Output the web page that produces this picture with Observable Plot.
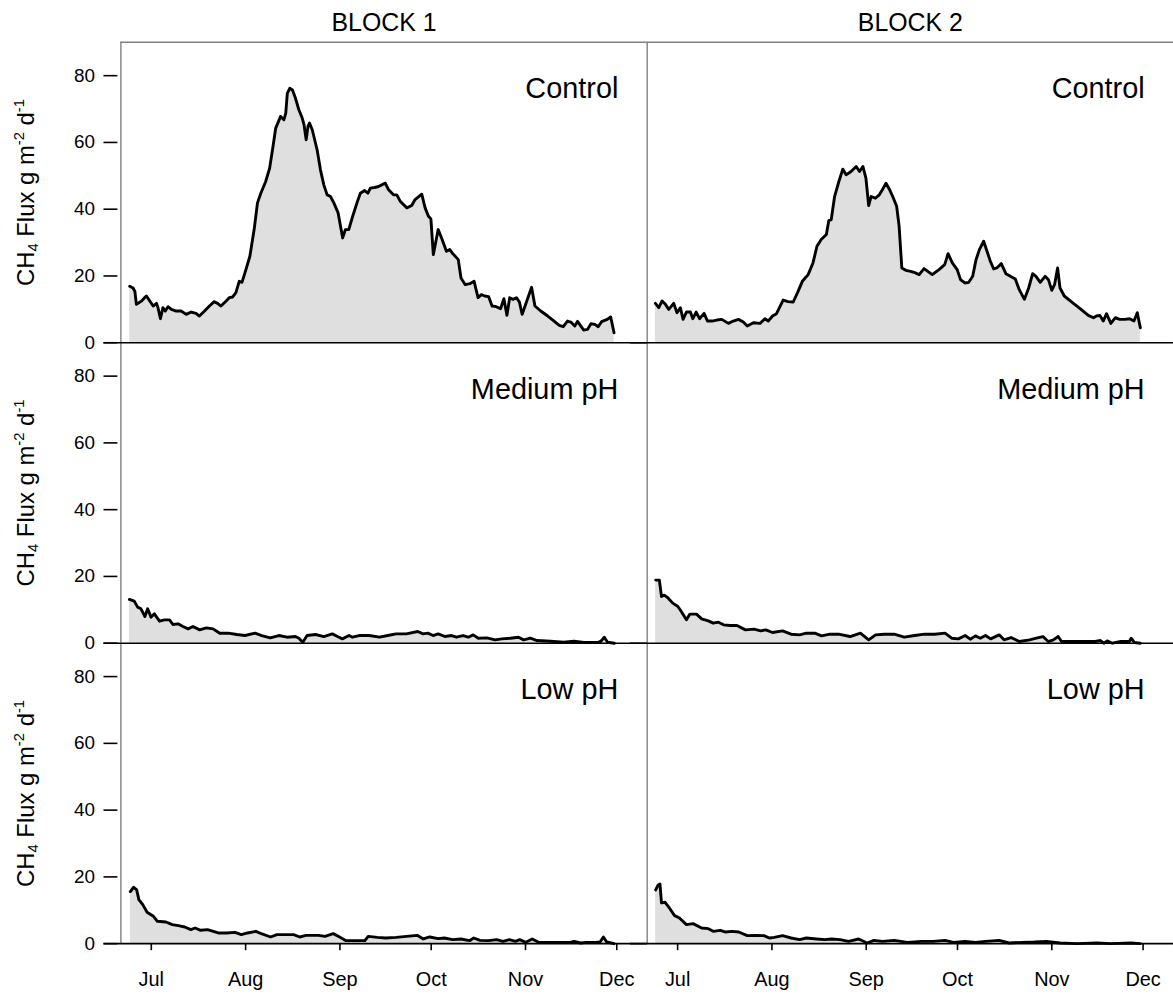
<!DOCTYPE html>
<html>
<head>
<meta charset="utf-8">
<script src="https://cdn.jsdelivr.net/npm/d3@7"></script>
<script src="https://cdn.jsdelivr.net/npm/@observablehq/plot@0.6"></script>
<style>
html, body { margin: 0; padding: 0; overflow: hidden; background: #fff; }
#chart { width: 1173px; height: 996px; overflow: hidden; }
</style>
</head>
<body>
<div id="chart"></div>
<script>
// ---- categories & labels ----
const blocks = ["BLOCK 1", "BLOCK 2"];
const treatments = ["Control", "Medium pH", "Low pH"];
const startDate = "2013-06-21";
const endDate = "2013-12-11";
const monthTicks = ["2013-07-01", "2013-08-01", "2013-09-01", "2013-10-01", "2013-11-01", "2013-12-01"];
const yTicks = [0, 20, 40, 60, 80];
const yMax = 90;
const yLabel = "CH4 Flux g m-2 d-1";
// label pieces: [text, "sub" | "sup" | null]
const yLabelParts = [["CH", null], ["4", "sub"], [" Flux g m", null], ["-2", "sup"], [" d", null], ["-1", "sup"]];

// ---- series: days after start date, flux values ----
const b1ControlDays = [2.9,4.0,4.6,5.1,6.8,7.8,8.4,9.5,10.6,11.7,12.2,13.0,13.8,14.6,15.5,16.6,18.2,19.8,21.5,23.1,24.7,25.8,27.5,29.1,30.7,31.8,32.9,34.6,35.6,36.7,37.8,38.9,39.8,41.1,42.4,43.8,44.9,46.0,47.6,48.9,50.0,50.9,52.5,53.6,54.2,54.7,55.5,56.4,57.4,58.5,59.6,60.2,60.9,61.5,62.0,62.9,64.5,65.6,66.7,67.8,68.9,70.0,71.4,72.2,72.9,73.8,74.9,76.2,77.6,78.7,80.1,81.2,82.0,83.4,84.7,86.9,88.0,89.6,90.7,91.8,94.0,95.6,96.7,98.9,100.0,101.1,101.9,102.7,104.3,105.6,107.0,108.1,108.9,110.9,111.8,113.2,114.7,116.1,117.4,118.5,119.6,120.9,122.0,123.4,124.8,125.9,126.9,127.8,128.9,130.0,131.0,131.9,133.8,135.0,136.1,138.0,140.3,142.4,144.1,145.4,146.8,147.9,149.2,150.1,151.2,152.1,153.4,154.5,155.8,156.9,158.0,159.9,161.0,162.1];
const b1ControlFlux = [16.9,16.4,15.4,11.5,12.5,13.5,14.0,12.5,11.0,11.8,10.5,7.2,10.5,9.5,10.8,10.0,9.5,9.5,8.5,9.2,8.8,8.0,9.5,11.0,12.3,11.8,11.0,12.5,13.5,13.7,15.0,18.4,18.1,21.9,25.9,33.9,41.9,44.8,48.3,52.3,58.8,64.3,67.8,66.8,68.8,74.7,76.2,75.7,73.2,69.8,67.3,65.3,60.8,64.8,65.8,63.8,57.8,51.8,47.3,44.3,43.8,41.9,38.9,34.9,31.4,33.9,33.9,37.9,41.9,44.8,45.6,44.8,46.3,46.5,46.8,47.8,45.8,44.3,44.3,42.4,40.4,41.1,42.9,44.5,40.4,37.9,37.1,26.4,33.9,30.9,27.4,27.9,26.9,24.9,19.4,17.4,17.7,18.4,13.5,14.4,14.0,13.8,11.0,10.8,10.2,13.2,8.2,13.5,13.0,13.5,12.2,8.5,13.5,16.6,11.0,9.5,8.0,6.5,5.2,4.8,6.5,6.2,5.0,6.4,5.0,3.8,4.0,5.7,5.5,4.8,6.3,7.0,7.7,3.0];

const b2ControlDays = [2.7,3.8,4.9,6.0,7.1,8.7,9.8,10.9,11.8,12.9,14.2,15.0,16.1,17.2,18.7,19.8,21.3,22.9,24.5,26.7,28.3,30.0,31.6,32.9,34.9,37.1,38.7,39.8,41.2,42.5,44.7,46.3,48.0,49.6,51.0,52.9,54.5,55.8,57.2,58.9,59.7,60.5,61.6,63.0,64.3,65.4,67.0,68.7,69.8,70.9,71.9,72.8,73.6,75.0,76.3,77.4,78.5,79.6,80.7,82.0,82.8,83.7,85.0,86.6,87.7,89.4,91.0,93.7,95.9,97.8,98.9,100.3,101.9,103.0,104.4,105.7,107.0,108.1,109.2,110.6,111.7,112.8,113.9,114.9,116.4,117.9,119.4,121.0,122.3,124.0,125.4,126.7,127.8,129.2,130.8,131.9,133.0,133.9,134.9,135.7,137.1,139.6,142.3,145.0,146.7,147.7,148.8,149.9,151.0,152.4,153.9,155.3,157.0,158.6,160.0,161.1,162.1];
const b2ControlFlux = [11.8,10.5,12.5,11.5,10.0,11.8,9.0,10.5,7.0,9.2,9.2,7.2,9.2,7.2,8.8,6.5,6.5,6.8,7.0,5.8,6.5,7.0,6.2,5.0,6.0,5.8,7.2,6.5,8.0,8.7,12.8,12.3,12.2,15.4,18.4,20.4,23.9,28.9,30.9,32.4,36.6,36.9,43.8,48.3,52.0,50.3,51.3,52.8,51.3,52.8,49.3,41.1,43.8,43.3,44.3,46.0,47.8,46.0,43.8,40.9,35.0,22.4,21.7,21.4,21.1,20.4,22.2,20.4,21.9,23.4,26.7,23.9,21.9,18.9,17.9,18.1,19.9,24.9,27.9,30.4,27.4,24.4,22.1,22.4,23.7,20.7,19.9,19.1,15.9,13.0,16.4,20.7,19.9,18.1,19.9,18.9,15.7,17.4,22.4,16.4,14.0,12.2,10.2,8.2,7.5,8.0,8.2,6.5,8.7,5.8,7.5,7.0,7.0,7.2,6.5,9.0,4.5];

const b1MediumDays = [2.8,4.4,5.5,6.6,7.9,8.8,9.9,11.0,12.7,14.3,16.0,17.1,18.8,20.4,22.1,23.7,25.9,28.1,30.3,32.5,35.3,38.1,40.8,44.1,46.3,49.1,51.9,54.6,57.4,58.5,59.8,61.2,64.0,66.7,69.5,71.2,72.8,75.0,76.1,78.3,81.6,85.0,87.7,90.5,93.8,97.6,99.3,100.9,102.6,104.3,106.5,108.7,110.3,112.5,114.2,115.8,117.5,120.3,123.0,125.2,128.0,130.7,132.4,134.6,136.8,141.2,145.6,148.9,152.2,156.7,157.8,158.9,160.0,162.2];
const b1MediumFlux = [13.1,12.6,10.8,10.3,8.0,10.3,7.8,8.8,6.6,7.0,7.0,5.6,5.8,5.0,4.3,5.0,4.0,4.6,4.3,3.0,3.0,2.6,2.3,3.0,2.3,1.6,2.3,1.8,2.0,1.5,0.3,2.3,2.6,2.0,2.8,2.0,1.3,2.3,1.8,2.3,2.3,1.8,2.3,2.8,2.8,3.5,2.8,3.0,2.3,2.8,2.0,2.3,1.8,2.3,1.8,2.5,1.5,1.6,1.0,1.3,1.5,1.8,1.0,1.5,0.8,0.6,0.3,0.6,0.2,0.2,0.6,1.8,0.3,0.0];

const b2MediumDays = [2.8,4.0,4.7,5.6,6.7,8.4,10.1,11.2,12.9,14.0,16.2,17.9,20.1,21.7,23.4,25.1,27.3,29.5,32.3,35.1,37.3,39.0,41.2,44.5,47.3,50.1,52.3,55.1,57.3,60.1,62.9,66.7,70.1,72.8,75.1,77.9,81.2,84.5,87.9,91.2,94.5,97.9,100.1,102.3,104.5,106.2,107.9,109.5,111.2,112.9,115.7,117.3,119.6,122.3,125.7,127.9,130.1,131.8,133.5,135.1,136.2,141.2,147.3,149.0,150.1,151.2,152.9,155.7,158.5,159.1,160.2,162.1];
const b2MediumFlux = [18.9,18.9,14.0,14.4,13.7,12.0,11.0,9.5,7.0,8.7,8.7,7.3,6.7,6.0,6.3,5.5,5.3,5.3,4.0,4.2,3.7,4.0,3.2,3.7,2.7,2.5,3.0,3.0,2.2,2.7,2.7,2.0,3.0,1.0,2.5,2.7,2.7,1.8,2.3,2.7,2.7,3.0,1.5,1.3,2.3,1.2,2.2,1.5,2.3,1.3,2.5,1.0,1.7,0.5,1.0,1.5,2.0,0.5,1.0,2.0,0.5,0.5,0.5,0.8,0.0,0.7,0.0,0.5,0.5,1.5,0.2,0.0];

const b1LowDays = [3.1,4.2,5.2,5.9,7.2,8.6,10.7,12.0,14.8,16.9,18.9,21.0,23.0,24.4,26.2,28.5,32.0,34.7,37.5,39.6,41.6,44.4,46.4,49.2,51.3,54.0,56.8,58.8,60.9,65.0,67.1,69.8,71.9,74.0,77.4,80.2,81.3,84.3,87.0,90.5,93.9,97.4,99.4,101.5,104.3,106.3,109.1,111.8,114.6,116.0,118.0,120.8,123.5,125.6,127.7,129.7,131.1,133.1,135.2,137.3,142.1,147.6,149.0,151.1,153.1,155.9,157.5,158.6,159.7,162.1];
const b1LowFlux = [15.6,16.9,16.1,13.2,11.7,9.4,8.2,6.7,6.5,5.7,5.4,5.0,4.2,4.7,4.0,4.2,3.2,3.2,3.4,2.7,3.2,3.7,2.9,2.0,2.7,2.7,2.7,2.0,2.5,2.5,2.2,3.0,2.0,0.9,0.9,0.9,2.2,1.9,1.7,1.9,2.2,2.5,1.4,2.0,1.5,1.7,1.2,1.4,0.9,1.7,1.0,0.9,1.2,0.7,1.2,0.7,1.2,0.4,1.4,0.4,0.4,0.4,0.7,0.2,0.4,0.4,0.5,2.0,0.5,0.0];

const b2LowDays = [2.8,3.6,4.2,4.7,5.9,7.3,9.0,10.6,12.9,15.1,17.9,20.1,21.7,24.0,25.6,27.9,30.1,32.9,35.6,38.4,40.1,41.8,44.5,47.3,50.1,52.3,55.7,58.4,60.6,63.4,66.2,69.5,72.3,74.5,77.3,81.2,85.6,90.1,94.0,97.9,100.7,104.5,107.9,111.2,115.7,119.0,123.4,127.3,131.2,135.7,141.2,147.9,152.4,159.0,162.1];
const b2LowFlux = [16.1,17.6,17.9,12.2,12.4,10.7,8.4,7.7,5.7,6.0,4.7,4.5,3.7,4.0,3.5,3.7,3.5,2.4,2.5,2.4,1.7,1.9,2.4,1.7,1.2,1.7,1.4,1.2,1.4,1.2,0.7,1.4,0.2,1.0,0.7,1.0,0.4,0.7,0.7,1.0,0.4,0.7,0.4,0.7,1.0,0.2,0.4,0.5,0.7,0.2,0.0,0.2,0.0,0.2,0.0];

const series = [
  {block: blocks[0], treatment: treatments[0], days: b1ControlDays, flux: b1ControlFlux},
  {block: blocks[1], treatment: treatments[0], days: b2ControlDays, flux: b2ControlFlux},
  {block: blocks[0], treatment: treatments[1], days: b1MediumDays, flux: b1MediumFlux},
  {block: blocks[1], treatment: treatments[1], days: b2MediumDays, flux: b2MediumFlux},
  {block: blocks[0], treatment: treatments[2], days: b1LowDays, flux: b1LowFlux},
  {block: blocks[1], treatment: treatments[2], days: b2LowDays, flux: b2LowFlux}
];

const t0 = Date.parse(startDate + "T00:00:00Z");
const rows = series.flatMap(s => s.days.map((d, i) => ({
  block: s.block, treatment: s.treatment,
  date: new Date(t0 + d * 864e5), flux: s.flux[i]
})));

const font = "'Liberation Sans', Arial, Helvetica, sans-serif";
const frameGray = "#808080";

const chart = Plot.plot({
  width: 1179,
  height: 996,
  marginTop: 42,
  marginBottom: 48,
  marginLeft: 121,
  marginRight: 0,
  style: {fontFamily: font, background: "#fff", color: "#000", overflow: "visible"},
  fx: {domain: blocks, padding: 0, label: null},
  fy: {domain: treatments, padding: 0, label: null, axis: null},
  x: {type: "utc", domain: [new Date(startDate), new Date(endDate)]},
  y: {domain: [0, yMax]},
  marks: [
    Plot.areaY(rows, {x: "date", y: "flux", fx: "block", fy: "treatment", fill: "#dfdfdf"}),
    Plot.ruleX([new Date(startDate)], {stroke: frameGray, strokeWidth: 1.4}),
    Plot.ruleY([{treatment: treatments[0], v: yMax}], {y: "v", fy: "treatment", stroke: frameGray, strokeWidth: 1.4}),
    Plot.ruleY([0], {stroke: "#000", strokeWidth: 1.6, insetLeft: -17}),
    Plot.lineY(rows, {x: "date", y: "flux", fx: "block", fy: "treatment", z: d => d.block + d.treatment,
      stroke: "#000", strokeWidth: 2.9, strokeLinejoin: "round"}),
    Plot.axisY(yTicks, {anchor: "left", tickSize: 14, tickPadding: 9, dx: -3, fontSize: 19, strokeWidth: 1.6, label: null}),
    Plot.axisX(monthTicks.map(s => new Date(s)), {anchor: "bottom", tickSize: 7, tickPadding: 21, fontSize: 20,
      strokeWidth: 1.6, tickFormat: d3.utcFormat("%b"), label: null}),
    Plot.axisFx({anchor: "top", tickSize: 0, tickPadding: 11, fontSize: 25, label: null}),
    Plot.text(treatments, {fy: d => d, text: d => d, frameAnchor: "top-right", textAnchor: "end",
      lineAnchor: "middle", dx: -29, dy: 47, fontSize: 29, fill: "#000"}),
    Plot.text(treatments, {fx: () => blocks[0], fy: d => d, text: () => yLabel, frameAnchor: "left",
      rotate: -90, textAnchor: "middle", lineAnchor: "middle", dx: -95, fontSize: 24, fill: "#000"})
  ]
});

// typeset the y-axis label with a real subscript and superscripts
d3.select(chart).selectAll("text").filter(function () { return this.textContent === yLabel; })
  .each(function () {
    const t = d3.select(this);
    t.text(null);
    yLabelParts.forEach(([s, kind]) => {
      const span = t.append("tspan").text(s);
      if (kind === "sub") span.attr("font-size", "0.62em").attr("baseline-shift", "-25%");
      if (kind === "sup") span.attr("font-size", "0.62em").attr("baseline-shift", "70%");
    });
  });

document.getElementById("chart").appendChild(chart);
</script>
</body>
</html>
